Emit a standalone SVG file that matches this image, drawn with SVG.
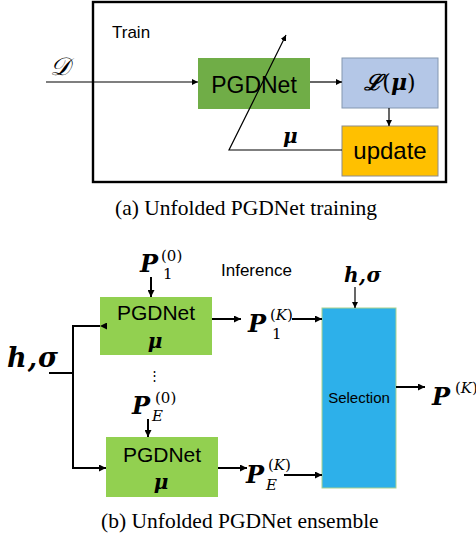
<svg xmlns="http://www.w3.org/2000/svg" width="476" height="539" viewBox="0 0 476 539">
  <defs>
    <marker id="ah" viewBox="0 0 8 8" refX="8" refY="4" markerWidth="6" markerHeight="6" markerUnits="userSpaceOnUse" orient="auto">
      <path d="M0,0 L8,4 L0,8 z" fill="#000"/>
    </marker>
    <marker id="ahb" viewBox="0 0 8 8" refX="8" refY="4" markerWidth="8" markerHeight="7" markerUnits="userSpaceOnUse" orient="auto">
      <path d="M0,0 L8,4 L0,8 z" fill="#000"/>
    </marker>
  </defs>
  <style>
    .sans { font-family: "Liberation Sans", Arial, sans-serif; fill: #000; }
    .math { font-family: "DejaVu Serif", "Liberation Serif", serif; font-weight: bold; font-style: italic; fill: #000; }
    .sup { font-family: "DejaVu Serif", "Liberation Serif", serif; font-style: normal; font-weight: normal; font-size: 15px; }
    .supi { font-family: "DejaVu Serif", "Liberation Serif", serif; font-style: italic; font-weight: normal; }
    .cap { font-family: "Liberation Serif", "Times New Roman", serif; font-size: 21.5px; fill: #000; }
    .thin { stroke: #000; stroke-width: 1.2; fill: none; }
    .thick { stroke: #000; stroke-width: 2; fill: none; }
  </style>

  <!-- (a) training loop -->
  <rect x="93" y="2" width="353" height="180" fill="#fff" stroke="#000" stroke-width="2.4"/>
  <text class="sans" x="112" y="38" font-size="17">Train</text>
  <text x="50" y="75" font-family="'DejaVu Serif', serif" font-style="italic" font-size="25">𝒟</text>

  <g id="train-pgdnet">
    <rect x="198" y="58" width="112" height="51" fill="#70AD47"/>
    <text class="sans" x="254" y="93" font-size="23" text-anchor="middle">PGDNet</text>
  </g>
  <g id="loss">
    <rect x="342" y="58" width="96" height="50" fill="#B4C7E7" stroke="#8497B0" stroke-width="1"/>
    <text class="math" x="390" y="90" font-size="22" text-anchor="middle">ℒ<tspan font-style="normal" font-weight="normal">(</tspan>μ<tspan font-style="normal" font-weight="normal">)</tspan></text>
  </g>
  <g id="update">
    <rect x="342" y="126" width="96" height="50" fill="#FFC000" stroke="#8C8C8C" stroke-width="1"/>
    <text class="sans" x="390" y="159" font-size="24" text-anchor="middle">update</text>
  </g>

  <g id="train-connectors">
    <line class="thin" x1="46" y1="82" x2="198" y2="82" marker-end="url(#ah)"/>
    <line class="thin" x1="310" y1="82" x2="342" y2="82" marker-end="url(#ah)"/>
    <line class="thin" x1="389" y1="108" x2="389" y2="126" marker-end="url(#ah)"/>
    <polyline class="thin" points="342,150 229,150 286,35" marker-end="url(#ah)"/>
    <text class="math" x="283" y="143" font-size="20">μ</text>
  </g>

  <text class="cap" x="115" y="215">(a) Unfolded PGDNet training</text>

  <!-- (b) ensemble inference -->
  <text class="sans" x="221" y="276" font-size="17">Inference</text>

  <g id="net-1">
    <rect x="100" y="297" width="112" height="58" fill="#92D050"/>
    <text class="sans" x="156" y="320" font-size="21" text-anchor="middle">PGDNet</text>
    <text class="math" x="155" y="348" font-size="20" text-anchor="middle">μ</text>
  </g>
  <g id="net-e">
    <rect x="106" y="437" width="112" height="60" fill="#92D050"/>
    <text class="sans" x="162" y="462" font-size="21" text-anchor="middle">PGDNet</text>
    <text class="math" x="161" y="489" font-size="20" text-anchor="middle">μ</text>
  </g>
  <g id="selection">
    <rect x="322" y="308" width="74" height="180" fill="#2DB0EA" stroke="#A9D18E" stroke-width="1"/>
    <text class="sans" x="359" y="403" font-size="15" text-anchor="middle">Selection</text>
  </g>

  <g id="labels">
    <text class="math" x="7" y="367" font-size="27" letter-spacing="1">h,σ</text>
    <text class="math" x="344" y="282" font-size="20" letter-spacing="0.5">h,σ</text>
    <text class="math" x="140" y="272" font-size="24">P</text>
    <text class="sup" x="161" y="261">(0)</text>
    <text class="sup" x="163" y="279">1</text>
    <text class="sans" x="148" y="380" font-size="13">⋮</text>
    <text class="math" x="132" y="414" font-size="24">P</text>
    <text class="sup" x="155" y="403">(0)</text>
    <text class="sup supi" x="152" y="421">E</text>
    <text class="math" x="248" y="332" font-size="24">P</text>
    <text class="sup" x="270" y="320">(<tspan class="supi">K</tspan>)</text>
    <text class="sup" x="272" y="339">1</text>
    <text class="math" x="246" y="483" font-size="24">P</text>
    <text class="sup" x="268" y="470">(<tspan class="supi">K</tspan>)</text>
    <text class="sup supi" x="266" y="490">E</text>
    <text class="math" x="432" y="405" font-size="24">P</text>
    <text class="sup" x="455" y="393">(<tspan class="supi">K</tspan>)</text>
  </g>

  <g id="ensemble-connectors">
    <polyline class="thick" points="49,373 73,373"/>
    <polyline class="thick" points="100,326 73,326 73,468 106,468" marker-start="url(#ahb)" marker-end="url(#ahb)"/>
    <line class="thick" x1="151" y1="277" x2="151" y2="297" stroke-width="1.5" marker-end="url(#ahb)"/>
    <line class="thick" x1="148" y1="419" x2="148" y2="437" stroke-width="1.5" marker-end="url(#ahb)"/>
    <line class="thin" x1="355" y1="287" x2="355" y2="308" marker-end="url(#ah)"/>
    <line class="thick" x1="212" y1="319" x2="241" y2="319" marker-end="url(#ahb)"/>
    <line class="thick" x1="292" y1="319" x2="322" y2="319" marker-end="url(#ahb)"/>
    <line class="thick" x1="218" y1="468" x2="247" y2="468" marker-end="url(#ahb)"/>
    <line class="thick" x1="284" y1="475" x2="322" y2="475" marker-end="url(#ahb)"/>
    <line class="thick" x1="396" y1="387" x2="425" y2="387" marker-end="url(#ahb)"/>
  </g>

  <text class="cap" x="101" y="528">(b) Unfolded PGDNet ensemble</text>
</svg>
